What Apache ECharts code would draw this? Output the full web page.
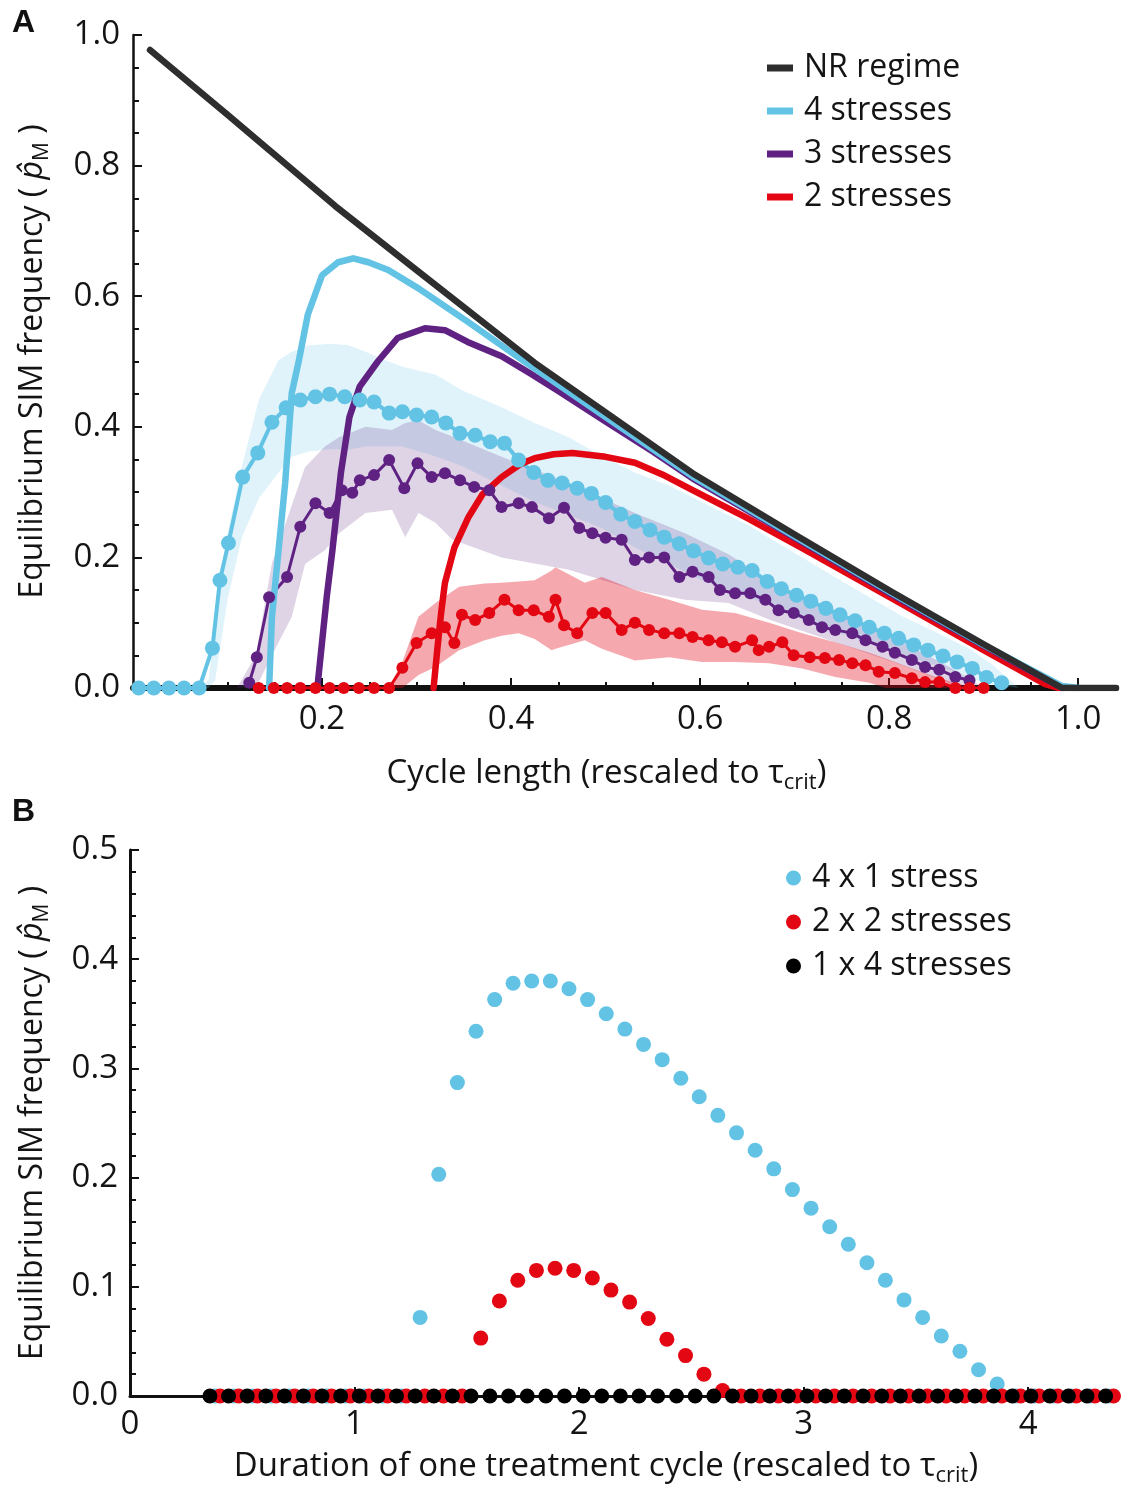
<!DOCTYPE html>
<html><head><meta charset="utf-8">
<script src="https://cdn.jsdelivr.net/npm/echarts@6/dist/echarts.min.js"></script>
<style>html,body{margin:0;padding:0;background:#fff}#c{width:1134px;height:1488px}</style>
</head><body><div id="c"></div>
<script>
// ---------- Panel A : theory curves ----------
const nrX = [0.018, 0.1, 0.214, 0.3, 0.425, 0.5, 0.592, 0.7, 0.803, 0.9, 0.983, 1.04];
const nrY = [0.977, 0.878, 0.738, 0.64, 0.498, 0.422, 0.329, 0.235, 0.147, 0.067, 0.0, 0.0];
const c4X = [0.144, 0.147, 0.154, 0.161, 0.168, 0.175, 0.185, 0.2, 0.217, 0.233, 0.249, 0.27, 0.302, 0.354, 0.415, 0.5, 0.592, 0.7, 0.803, 0.9, 0.983, 1.0];
const c4Y = [0, 0.109, 0.211, 0.314, 0.452, 0.498, 0.572, 0.632, 0.652, 0.658, 0.652, 0.64, 0.612, 0.561, 0.499, 0.415, 0.324, 0.232, 0.145, 0.066, 0.003, 0];
const c3X = [0.195, 0.2, 0.205, 0.211, 0.22, 0.229, 0.24, 0.259, 0.28, 0.309, 0.33, 0.354, 0.39, 0.42, 0.45, 0.5, 0.55, 0.592, 0.7, 0.803, 0.9, 0.983];
const c3Y = [0, 0.07, 0.14, 0.211, 0.33, 0.415, 0.462, 0.5, 0.536, 0.551, 0.548, 0.53, 0.508, 0.482, 0.455, 0.408, 0.362, 0.321, 0.23, 0.143, 0.065, 0.0];
const c2X = [0.318, 0.322, 0.326, 0.33, 0.34, 0.355, 0.37, 0.39, 0.41, 0.425, 0.445, 0.465, 0.5, 0.531, 0.56, 0.592, 0.65, 0.708, 0.75, 0.803, 0.9, 0.965, 0.98];
const c2Y = [0, 0.06, 0.115, 0.161, 0.215, 0.262, 0.297, 0.323, 0.343, 0.352, 0.358, 0.36, 0.354, 0.345, 0.327, 0.303, 0.26, 0.214, 0.18, 0.137, 0.058, 0.006, 0];

// ---------- Panel A : simulations ----------
const s4X = [0.006, 0.022, 0.038, 0.054, 0.070, 0.084, 0.092, 0.101, 0.116, 0.132, 0.147, 0.162, 0.177, 0.193, 0.208, 0.224, 0.240, 0.255, 0.271, 0.285, 0.300, 0.316, 0.331, 0.346, 0.362, 0.378, 0.393, 0.408, 0.424, 0.439, 0.454, 0.470, 0.485, 0.500, 0.516, 0.531, 0.547, 0.562, 0.578, 0.593, 0.609, 0.624, 0.640, 0.655, 0.671, 0.686, 0.702, 0.717, 0.733, 0.748, 0.764, 0.779, 0.795, 0.810, 0.826, 0.841, 0.857, 0.872, 0.888, 0.903, 0.919];
const s4Y = [0, 0, 0, 0, 0, 0.061, 0.165, 0.222, 0.323, 0.36, 0.407, 0.429, 0.441, 0.446, 0.45, 0.446, 0.441, 0.438, 0.421, 0.423, 0.418, 0.415, 0.406, 0.39, 0.387, 0.377, 0.375, 0.349, 0.33, 0.318, 0.314, 0.306, 0.298, 0.284, 0.266, 0.255, 0.242, 0.231, 0.221, 0.21, 0.199, 0.19, 0.185, 0.18, 0.163, 0.152, 0.142, 0.133, 0.122, 0.112, 0.103, 0.093, 0.084, 0.076, 0.066, 0.058, 0.049, 0.04, 0.03, 0.016, 0.008];
const s3X = [0.123, 0.131, 0.144, 0.163, 0.177, 0.193, 0.208, 0.221, 0.232, 0.240, 0.255, 0.271, 0.287, 0.301, 0.316, 0.330, 0.346, 0.361, 0.377, 0.390, 0.408, 0.422, 0.440, 0.456, 0.472, 0.486, 0.500, 0.517, 0.531, 0.546, 0.562, 0.578, 0.592, 0.609, 0.621, 0.637, 0.653, 0.669, 0.683, 0.699, 0.715, 0.729, 0.743, 0.761, 0.775, 0.793, 0.806, 0.824, 0.838, 0.853, 0.870, 0.885];
const s3Y = [0.008, 0.047, 0.139, 0.17, 0.247, 0.283, 0.268, 0.303, 0.299, 0.318, 0.326, 0.349, 0.306, 0.344, 0.323, 0.329, 0.318, 0.308, 0.303, 0.277, 0.283, 0.277, 0.26, 0.276, 0.245, 0.237, 0.23, 0.227, 0.196, 0.2, 0.2, 0.17, 0.178, 0.17, 0.15, 0.145, 0.145, 0.135, 0.119, 0.115, 0.104, 0.093, 0.089, 0.084, 0.073, 0.063, 0.054, 0.043, 0.032, 0.028, 0.017, 0.012];
const s2X = [0.133, 0.149, 0.163, 0.177, 0.193, 0.208, 0.223, 0.239, 0.255, 0.271, 0.285, 0.300, 0.316, 0.330, 0.340, 0.348, 0.362, 0.377, 0.393, 0.408, 0.424, 0.440, 0.447, 0.456, 0.470, 0.486, 0.500, 0.517, 0.531, 0.546, 0.562, 0.578, 0.592, 0.609, 0.623, 0.637, 0.655, 0.662, 0.673, 0.687, 0.699, 0.716, 0.732, 0.747, 0.761, 0.775, 0.789, 0.806, 0.824, 0.838, 0.853, 0.870, 0.885, 0.900];
const s2Y = [0, 0, 0, 0, 0, 0, 0, 0, 0, 0, 0.031, 0.069, 0.084, 0.093, 0.069, 0.112, 0.104, 0.115, 0.135, 0.119, 0.119, 0.109, 0.135, 0.096, 0.084, 0.115, 0.115, 0.089, 0.1, 0.089, 0.084, 0.084, 0.078, 0.073, 0.07, 0.063, 0.073, 0.058, 0.063, 0.07, 0.05, 0.047, 0.046, 0.043, 0.038, 0.035, 0.025, 0.023, 0.015, 0.009, 0.009, 0, 0, 0];

// ---------- Panel A : simulation envelopes ----------
const b4X = [0.07, 0.08, 0.087, 0.091, 0.1, 0.115, 0.133, 0.154, 0.168, 0.186, 0.21, 0.228, 0.246, 0.267, 0.285, 0.32, 0.348, 0.39, 0.425, 0.461, 0.496, 0.531, 0.567, 0.602, 0.65, 0.708, 0.76, 0.814, 0.85, 0.885, 0.91, 0.937];
const b4Lo = [0, 0, 0.012, 0.05, 0.135, 0.23, 0.29, 0.33, 0.354, 0.362, 0.366, 0.365, 0.37, 0.37, 0.37, 0.355, 0.34, 0.31, 0.285, 0.265, 0.245, 0.215, 0.19, 0.165, 0.14, 0.105, 0.078, 0.05, 0.035, 0.015, 0.005, 0];
const b4Hi = [0, 0.012, 0.1, 0.16, 0.237, 0.338, 0.441, 0.502, 0.515, 0.525, 0.527, 0.525, 0.515, 0.502, 0.492, 0.48, 0.456, 0.43, 0.406, 0.384, 0.355, 0.33, 0.31, 0.285, 0.25, 0.2, 0.155, 0.11, 0.085, 0.06, 0.035, 0];
const b3X = [0.11, 0.13, 0.147, 0.168, 0.182, 0.203, 0.218, 0.246, 0.274, 0.288, 0.302, 0.32, 0.338, 0.39, 0.461, 0.531, 0.584, 0.63, 0.673, 0.743, 0.814, 0.867, 0.89, 0.9];
const b3Lo = [0, 0, 0.05, 0.109, 0.19, 0.211, 0.237, 0.268, 0.273, 0.231, 0.268, 0.253, 0.227, 0.2, 0.181, 0.15, 0.135, 0.13, 0.105, 0.07, 0.035, 0.005, 0, 0];
const b3Hi = [0, 0.05, 0.191, 0.28, 0.338, 0.37, 0.384, 0.4, 0.395, 0.406, 0.41, 0.395, 0.385, 0.354, 0.314, 0.268, 0.237, 0.205, 0.165, 0.115, 0.07, 0.03, 0.01, 0];
const b2X = [0.27, 0.285, 0.302, 0.32, 0.345, 0.372, 0.39, 0.408, 0.425, 0.443, 0.447, 0.478, 0.496, 0.531, 0.567, 0.602, 0.637, 0.673, 0.708, 0.743, 0.779, 0.796, 0.849, 0.87, 0.89];
const b2Lo = [0, 0, 0.02, 0.032, 0.058, 0.073, 0.08, 0.084, 0.075, 0.058, 0.06, 0.073, 0.06, 0.042, 0.047, 0.04, 0.04, 0.038, 0.03, 0.017, 0.008, 0, 0, 0, 0];
const b2Hi = [0, 0.04, 0.109, 0.13, 0.155, 0.16, 0.161, 0.163, 0.165, 0.18, 0.185, 0.161, 0.17, 0.15, 0.135, 0.12, 0.115, 0.1, 0.084, 0.07, 0.054, 0.045, 0.017, 0.008, 0];

// ---------- Panel B ----------
const p41X = [0.380, 0.463, 0.546, 0.629, 0.712, 0.795, 0.877, 0.960, 1.043, 1.126, 1.209, 1.292, 1.375, 1.458, 1.541, 1.624, 1.706, 1.789, 1.872, 1.955, 2.038, 2.121, 2.204, 2.287, 2.370, 2.453, 2.535, 2.618, 2.701, 2.784, 2.867, 2.950, 3.033, 3.116, 3.199, 3.282, 3.364, 3.447, 3.530, 3.613, 3.696, 3.779, 3.862, 3.945, 4.028, 4.111, 4.193, 4.276, 4.359];
const p41Y = [0, 0, 0, 0, 0, 0, 0, 0, 0, 0, 0, 0.072, 0.203, 0.287, 0.334, 0.363, 0.378, 0.38, 0.38, 0.373, 0.363, 0.35, 0.336, 0.322, 0.308, 0.291, 0.274, 0.257, 0.241, 0.225, 0.208, 0.189, 0.172, 0.155, 0.139, 0.122, 0.106, 0.088, 0.072, 0.055, 0.041, 0.024, 0.011, 0, 0, 0, 0, 0, 0];
const p22X = [0.401, 0.484, 0.567, 0.650, 0.733, 0.816, 0.898, 0.981, 1.064, 1.147, 1.230, 1.313, 1.396, 1.479, 1.562, 1.645, 1.727, 1.810, 1.893, 1.976, 2.059, 2.142, 2.225, 2.308, 2.391, 2.474, 2.556, 2.639, 2.722, 2.805, 2.888, 2.971, 3.054, 3.137, 3.220, 3.303, 3.385, 3.468, 3.551, 3.634, 3.717, 3.800, 3.883, 3.966, 4.049, 4.132, 4.214, 4.297, 4.380];
const p22Y = [0, 0, 0, 0, 0, 0, 0, 0, 0, 0, 0, 0, 0, 0, 0.053, 0.087, 0.106, 0.115, 0.117, 0.115, 0.108, 0.097, 0.086, 0.071, 0.052, 0.037, 0.02, 0.005, 0, 0, 0, 0, 0, 0, 0, 0, 0, 0, 0, 0, 0, 0, 0, 0, 0, 0, 0, 0, 0];
const p14X = [0.356, 0.439, 0.522, 0.605, 0.688, 0.772, 0.855, 0.938, 1.021, 1.104, 1.187, 1.270, 1.353, 1.436, 1.519, 1.603, 1.686, 1.769, 1.852, 1.935, 2.018, 2.101, 2.184, 2.267, 2.350, 2.434, 2.517, 2.600, 2.683, 2.766, 2.849, 2.932, 3.015, 3.098, 3.181, 3.265, 3.348, 3.431, 3.514, 3.597, 3.680, 3.763, 3.846, 3.929, 4.012, 4.096, 4.179, 4.262, 4.345];
const p14Y = [0, 0, 0, 0, 0, 0, 0, 0, 0, 0, 0, 0, 0, 0, 0, 0, 0, 0, 0, 0, 0, 0, 0, 0, 0, 0, 0, 0, 0, 0, 0, 0, 0, 0, 0, 0, 0, 0, 0, 0, 0, 0, 0, 0, 0, 0, 0, 0, 0];

// ---------- ticks ----------
const aXMajor = [0.2, 0.4, 0.6, 0.8, 1.0];
const aXMinor = [0.05, 0.1, 0.15, 0.25, 0.3, 0.35, 0.45, 0.5, 0.55, 0.65, 0.7, 0.75, 0.85, 0.9, 0.95];
const bXTicks = [1, 2, 3, 4];
const bXLabels = [0, 1, 2, 3, 4];

const CYAN = '#63c3e5', PURPLE = '#5f2283', RED = '#e30613', DARK = '#2e2e2e';
const FONT = '"Open Sans", "Noto Sans", sans-serif';
const TXT = '#141414';

const zip = (xs, ys) => xs.map((x, i) => [x, ys[i]]);

function band(xs, lo, hi, color) {
  return { type: 'custom', xAxisIndex: 0, yAxisIndex: 0, silent: true, animation: false,
    data: xs.map((x, i) => [x, lo[i], hi[i]]), encode: { x: 0, y: [1, 2] },
    renderItem: function (params, api) {
      if (params.dataIndex !== 0) return null;
      const top = xs.map((x, i) => api.coord([x, hi[i]]));
      const bot = xs.map((x, i) => api.coord([x, lo[i]])).reverse();
      return { type: 'polygon', shape: { points: top.concat(bot) }, style: { fill: color } };
    } };
}
function sim(name, xs, ys, color, size, width) {
  return { type: 'line', name: name, xAxisIndex: 0, yAxisIndex: 0, data: zip(xs, ys),
    symbol: 'circle', symbolSize: size, showSymbol: true, showAllSymbol: true,
    itemStyle: { color: color }, lineStyle: { color: color, width: width }, animation: false };
}
function theory(name, xs, ys, color) {
  return { type: 'line', name: name, xAxisIndex: 0, yAxisIndex: 0, data: zip(xs, ys),
    symbol: 'none', smooth: false, color: color, itemStyle: { color: color },
    lineStyle: { color: color, width: 6.5, cap: 'round', join: 'round' }, animation: false };
}
function dots(name, xs, ys, color) {
  return { type: 'scatter', name: name, xAxisIndex: 2, yAxisIndex: 1, data: zip(xs, ys),
    symbol: 'circle', symbolSize: 15, itemStyle: { color: color, opacity: 1 }, animation: false };
}

const axisLabelStyle = { fontFamily: FONT, fontSize: 33, color: TXT };
const nameStyleX = { fontFamily: FONT, fontSize: 33, color: TXT, lineHeight: 40,
  rich: { s: { fontFamily: FONT, fontSize: 22, color: TXT, lineHeight: 22, verticalAlign: 'bottom' } } };
const nameStyleY = { fontFamily: FONT, fontSize: 32, color: TXT, lineHeight: 40,
  rich: { i: { fontFamily: FONT, fontSize: 32, fontStyle: 'italic', color: TXT, lineHeight: 40 },
          s: { fontFamily: FONT, fontSize: 21, color: TXT, lineHeight: 21, verticalAlign: 'bottom' } } };
const yName = 'Equilibrium SIM frequency ( {i|p\u0302}{s|M} )';

const option = {
  backgroundColor: '#ffffff',
  animation: false,
  grid: [
    { left: 133, top: 35, width: 983, height: 653 },
    { left: 130, top: 850, width: 988, height: 554 }
  ],
  xAxis: [
    { type: 'value', gridIndex: 0, min: 0, max: 1.04,
      axisLine: { show: true, onZero: false, lineStyle: { color: '#111', width: 6 } },
      axisTick: { show: true, inside: true, length: 10, customValues: aXMajor, lineStyle: { color: '#111', width: 2 } },
      axisLabel: { show: true, customValues: aXMajor, margin: 15, formatter: v => v.toFixed(1), ...axisLabelStyle },
      splitLine: { show: false },
      name: 'Cycle length (rescaled to \u03c4{s|crit})', nameLocation: 'middle', nameGap: 66,
      nameTextStyle: { ...nameStyleX, padding: [0, 36, 0, 0] } },
    { type: 'value', gridIndex: 0, min: 0, max: 1.04, position: 'bottom',
      axisLine: { show: false },
      axisTick: { show: true, inside: true, length: 6, customValues: aXMinor, lineStyle: { color: '#111', width: 2 } },
      axisLabel: { show: false }, splitLine: { show: false } },
    { type: 'value', gridIndex: 1, min: 0, max: 4.4,
      axisLine: { show: true, onZero: false, lineStyle: { color: '#111', width: 3 } },
      axisTick: { show: true, inside: true, length: 9, customValues: bXTicks, lineStyle: { color: '#111', width: 2 } },
      axisLabel: { show: true, customValues: bXLabels, margin: 12, formatter: v => String(v), ...axisLabelStyle },
      splitLine: { show: false },
      name: 'Duration of one treatment cycle (rescaled to \u03c4{s|crit})', nameLocation: 'middle', nameGap: 51,
      nameTextStyle: { ...nameStyleX, padding: [0, 36, 0, 0] } }
  ],
  yAxis: [
    { type: 'value', gridIndex: 0, min: 0, max: 1.0, interval: 0.2,
      axisLine: { show: true, onZero: false, lineStyle: { color: '#111', width: 2.5 } },
      axisTick: { show: true, inside: true, length: 9, lineStyle: { color: '#111', width: 2 } },
      minorTick: { show: true, splitNumber: 4, length: 6, lineStyle: { color: '#111', width: 2 } },
      axisLabel: { margin: 13, formatter: v => v.toFixed(1), ...axisLabelStyle },
      splitLine: { show: false }, minorSplitLine: { show: false },
      name: yName, nameLocation: 'middle', nameRotate: 90, nameGap: 80, nameTextStyle: nameStyleY },
    { type: 'value', gridIndex: 1, min: 0, max: 0.5, interval: 0.1,
      axisLine: { show: true, onZero: false, lineStyle: { color: '#111', width: 3 } },
      axisTick: { show: true, inside: true, length: 9, lineStyle: { color: '#111', width: 2 } },
      minorTick: { show: true, splitNumber: 5, length: 6, lineStyle: { color: '#111', width: 2 } },
      axisLabel: { margin: 12, formatter: v => v.toFixed(1), ...axisLabelStyle },
      splitLine: { show: false }, minorSplitLine: { show: false },
      name: yName, nameLocation: 'middle', nameRotate: 90, nameGap: 77, nameTextStyle: nameStyleY }
  ],
  legend: [
    { data: ['NR regime', '4 stresses', '3 stresses', '2 stresses'], orient: 'vertical', left: 762, top: 47,
      icon: 'rect', itemWidth: 26, itemHeight: 7, itemGap: 11, selectedMode: false,
      textStyle: { fontFamily: FONT, fontSize: 32, color: TXT, padding: [0, 0, 0, 6] } },
    { data: ['4 x 1 stress', '2 x 2 stresses', '1 x 4 stresses'], orient: 'vertical', left: 781, top: 857,
      icon: 'circle', itemWidth: 15, itemHeight: 15, itemGap: 12, selectedMode: false,
      textStyle: { fontFamily: FONT, fontSize: 32, color: TXT, padding: [0, 0, 0, 6] } }
  ],
  graphic: [
    { type: 'text', left: 12, top: 7, style: { text: 'A', font: 'bold 32px "Liberation Sans", Arial, sans-serif', fill: '#111' } },
    { type: 'text', left: 12, top: 796, style: { text: 'B', font: 'bold 32px "Liberation Sans", Arial, sans-serif', fill: '#111' } }
  ],
  series: [
    band(b4X, b4Lo, b4Hi, 'rgba(99,195,229,0.2)'),
    sim('4 stresses sim', s4X, s4Y, CYAN, 15, 4),
    band(b3X, b3Lo, b3Hi, 'rgba(95,34,131,0.2)'),
    sim('3 stresses sim', s3X, s3Y, PURPLE, 12, 3),
    band(b2X, b2Lo, b2Hi, 'rgba(227,6,19,0.35)'),
    sim('2 stresses sim', s2X, s2Y, RED, 12, 3),
    theory('2 stresses', c2X, c2Y, RED),
    theory('3 stresses', c3X, c3Y, PURPLE),
    theory('4 stresses', c4X, c4Y, CYAN),
    theory('NR regime', nrX, nrY, DARK),
    dots('4 x 1 stress', p41X, p41Y, CYAN),
    dots('2 x 2 stresses', p22X, p22Y, RED),
    dots('1 x 4 stresses', p14X, p14Y, '#000000')
  ]
};
const chart = echarts.init(document.getElementById('c'), null, { renderer: 'canvas' });
chart.setOption(option);
</script>
</body></html>
